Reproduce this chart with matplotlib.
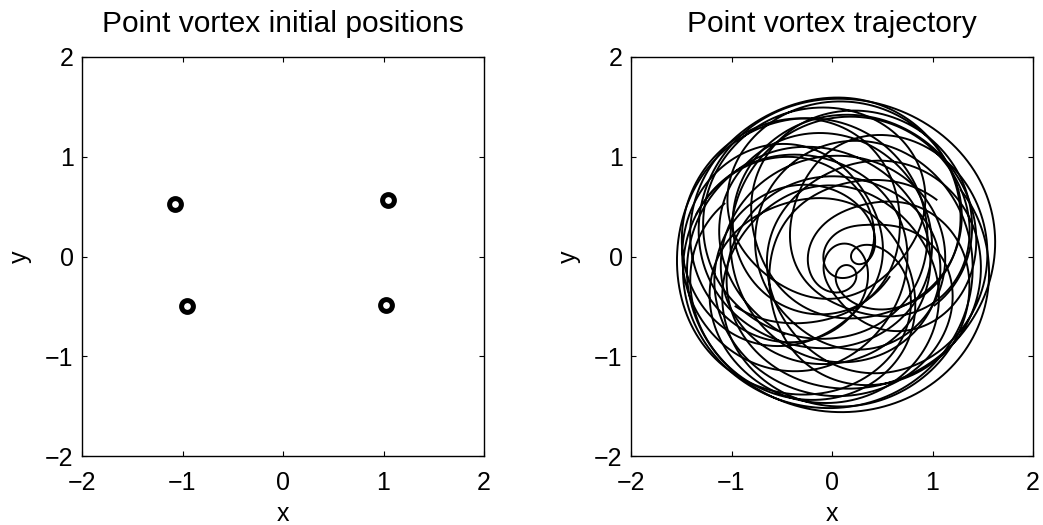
import numpy as np
import matplotlib
matplotlib.use("Agg")
import matplotlib.pyplot as plt

# Initial vortex positions
x0 = [-1.07, -0.96, 1.04, 1.02]
y0 = [0.53, -0.50, 0.57, -0.49]
# Circulations (equal strength) and integration time
gam = [1.0, 1.0, 1.0, 1.0]
t_end = 200.0
dt = 0.02

ticks = [-2, -1, 0, 1, 2]
tick_labels = ["\u22122", "\u22121", "0", "1", "2"]
titles = ["Point vortex initial positions", "Point vortex trajectory"]


def vel(z, g):
    d = z[:, None] - z[None, :]
    np.fill_diagonal(d, np.inf)
    w = (g[None, :] / d).sum(axis=1) / (2j * np.pi)
    return np.conj(w)


def simulate(T, h):
    z = np.array(x0) + 1j * np.array(y0)
    g = np.array(gam)
    n = int(round(T / h))
    out = np.empty((n + 1, len(z)), complex)
    out[0] = z
    for k in range(n):
        k1 = vel(z, g)
        k2 = vel(z + h / 2 * k1, g)
        k3 = vel(z + h / 2 * k2, g)
        k4 = vel(z + h * k3, g)
        z = z + h / 6 * (k1 + 2 * k2 + 2 * k3 + k4)
        out[k + 1] = z
    return out


traj = simulate(t_end, dt)

plt.rcParams['font.family'] = ['Liberation Sans', 'DejaVu Sans']
plt.rcParams['font.size'] = 18

fig = plt.figure(figsize=(10.43, 5.25), dpi=100)
ax1 = fig.add_axes([82 / 1043, 1 - 456 / 525, 402 / 1043, 399 / 525])
ax2 = fig.add_axes([631 / 1043, 1 - 456 / 525, 402 / 1043, 399 / 525])

ax1.plot(x0, y0, 'o', color='k', ms=8.5, mew=3.6, mfc='none', ls='none')
for i in range(traj.shape[1]):
    ax2.plot(traj[:, i].real, traj[:, i].imag, color='k', lw=1.4)

for ax, t in zip([ax1, ax2], titles):
    ax.set_xlim(-2, 2)
    ax.set_ylim(-2, 2)
    ax.set_xticks(ticks)
    ax.set_yticks(ticks)
    ax.set_xticklabels(tick_labels)
    ax.set_yticklabels(tick_labels)
    ax.tick_params(direction='in', length=3.5, width=0.8, top=True, right=True)
    ax.tick_params(axis='x', pad=11)
    ax.tick_params(axis='y', pad=6)
    for s in ax.spines.values():
        s.set_linewidth(1.0)
    ax.set_title(t, pad=18)
    ax.set_xlabel('x', labelpad=5)
    ax.set_ylabel('y')
    ax.yaxis.set_label_coords(-0.125, 0.5)

fig.savefig("out.png", dpi=100)
